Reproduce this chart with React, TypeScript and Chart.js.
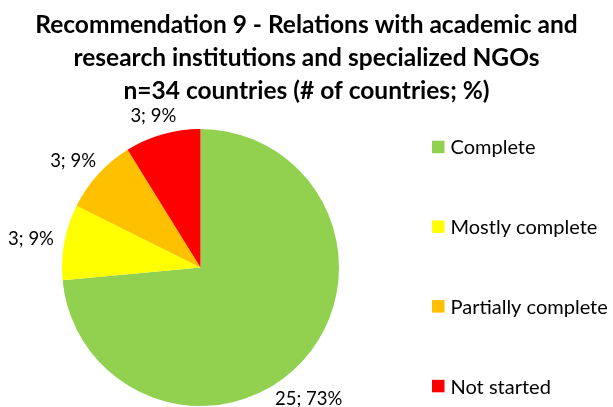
import React, { useEffect, useRef } from 'react';
import { Chart, registerables, layouts } from 'chart.js';

Chart.register(...registerables);

const categories = ['Complete', 'Mostly complete', 'Partially complete', 'Not started'];
const countries = [25, 3, 3, 3];
const percentages = [73, 9, 9, 9];
const colors = ['#92D050', '#FFFF00', '#FFC000', '#FF0000'];
const titleLines = [
  'Recommendation 9 - Relations with academic and',
  'research institutions and specialized NGOs',
  'n=34 countries (# of countries; %)',
];

const FONT = 'Lato, "Open Sans", sans-serif';
const TITLE_SIZE = 24.5;
const LABEL_SIZE = 18.5;
const LEGEND_SIZE = 20;
const LEGEND_WIDTH = 212;
const LEGEND_STEP = 79.7;

const sideLegend = {
  id: 'sideLegend',
  beforeInit(chart: any) {
    const box: any = {
      position: 'right',
      weight: 0,
      fullSize: false,
      options: {},
      left: 0, top: 0, right: 0, bottom: 0, width: 0, height: 0,
      isHorizontal() { return false; },
      update(_maxWidth: number, maxHeight: number) {
        this.width = LEGEND_WIDTH;
        this.height = maxHeight;
      },
      draw() {
        const ctx = chart.ctx as CanvasRenderingContext2D;
        const area = chart.chartArea;
        const mid = (area.top + area.bottom) / 2 - 1;
        const ds = chart.data.datasets[0];
        const labels = chart.data.labels as string[];
        ctx.save();
        ctx.font = `${LEGEND_SIZE}px ${FONT}`;
        ctx.textBaseline = 'middle';
        ctx.textAlign = 'left';
        const sq = 12.5;
        labels.forEach((lab, i) => {
          const cy = mid + (i - (labels.length - 1) / 2) * LEGEND_STEP;
          const x0 = this.left + 31;
          ctx.fillStyle = (ds.backgroundColor as string[])[i];
          ctx.fillRect(x0, cy - sq / 2, sq, sq);
          ctx.fillStyle = '#000';
          ctx.fillText(lab, x0 + sq + 6, cy + 1);
        });
        ctx.restore();
      },
    };
    layouts.addBox(chart, box);
  },
};

const arcLabels = {
  id: 'arcLabels',
  afterDatasetsDraw(chart: any) {
    const ctx = chart.ctx as CanvasRenderingContext2D;
    const meta = chart.getDatasetMeta(0);
    const GAP = 11;
    const EDGE_GAP = 6;
    const SNAP = 36;
    ctx.save();
    ctx.font = `${LABEL_SIZE}px ${FONT}`;
    ctx.fillStyle = '#000';
    ctx.textAlign = 'center';
    ctx.textBaseline = 'middle';
    meta.data.forEach((arc: any, i: number) => {
      const { x, y, startAngle, endAngle, outerRadius } = arc.getProps(
        ['x', 'y', 'startAngle', 'endAngle', 'outerRadius'], true);
      const m = (startAngle + endAngle) / 2;
      const dx = Math.cos(m);
      const dy = Math.sin(m);
      const text = `${countries[i]}; ${percentages[i]}%`;
      const w = ctx.measureText(text).width;
      const h = LABEL_SIZE * 0.85;
      const d = outerRadius + GAP;
      let cx = x + dx * d + (dx * w) / 2;
      let cy = y + dy * d + (dy * h) / 2;
      const H = chart.height;
      if (cy + h / 2 > H - SNAP) {
        // snap to the bottom edge and slide along the pie outline
        cy = H - h / 2;
        const top = cy - h / 2 - y;
        const rr = outerRadius + EDGE_GAP;
        const need = Math.sqrt(Math.max(rr * rr - top * top, 0));
        cx = x + Math.sign(dx) * (need + w / 2);
      }
      ctx.fillText(text, cx, cy);
    });
    ctx.restore();
  },
};

export default function App() {
  const ref = useRef<HTMLCanvasElement>(null);
  useEffect(() => {
    document.body.style.margin = '0';
    const canvas = ref.current;
    if (!canvas) return;
    const chart = new Chart(canvas, {
      type: 'pie',
      data: {
        labels: categories,
        datasets: [
          {
            data: countries,
            backgroundColor: colors,
            borderWidth: 0,
          },
        ],
      },
      options: {
        responsive: false,
        maintainAspectRatio: false,
        animation: false,
        devicePixelRatio: 1,
        layout: { padding: { top: 0, bottom: 1, left: 0, right: 0 } },
        plugins: {
          legend: { display: false },
          tooltip: { enabled: false },
          title: {
            display: true,
            text: titleLines,
            color: '#000',
            font: { family: FONT, size: TITLE_SIZE, weight: 'bold', lineHeight: '33px' },
            padding: { top: 8.5, bottom: 21.5 },
          },
        },
      },
      plugins: [sideLegend, arcLabels],
    } as any);
    return () => chart.destroy();
  }, []);
  return (
    <div style={{ width: 613, height: 407 }}>
      <canvas ref={ref} width={613} height={407} style={{ display: 'block' }} />
    </div>
  );
}
